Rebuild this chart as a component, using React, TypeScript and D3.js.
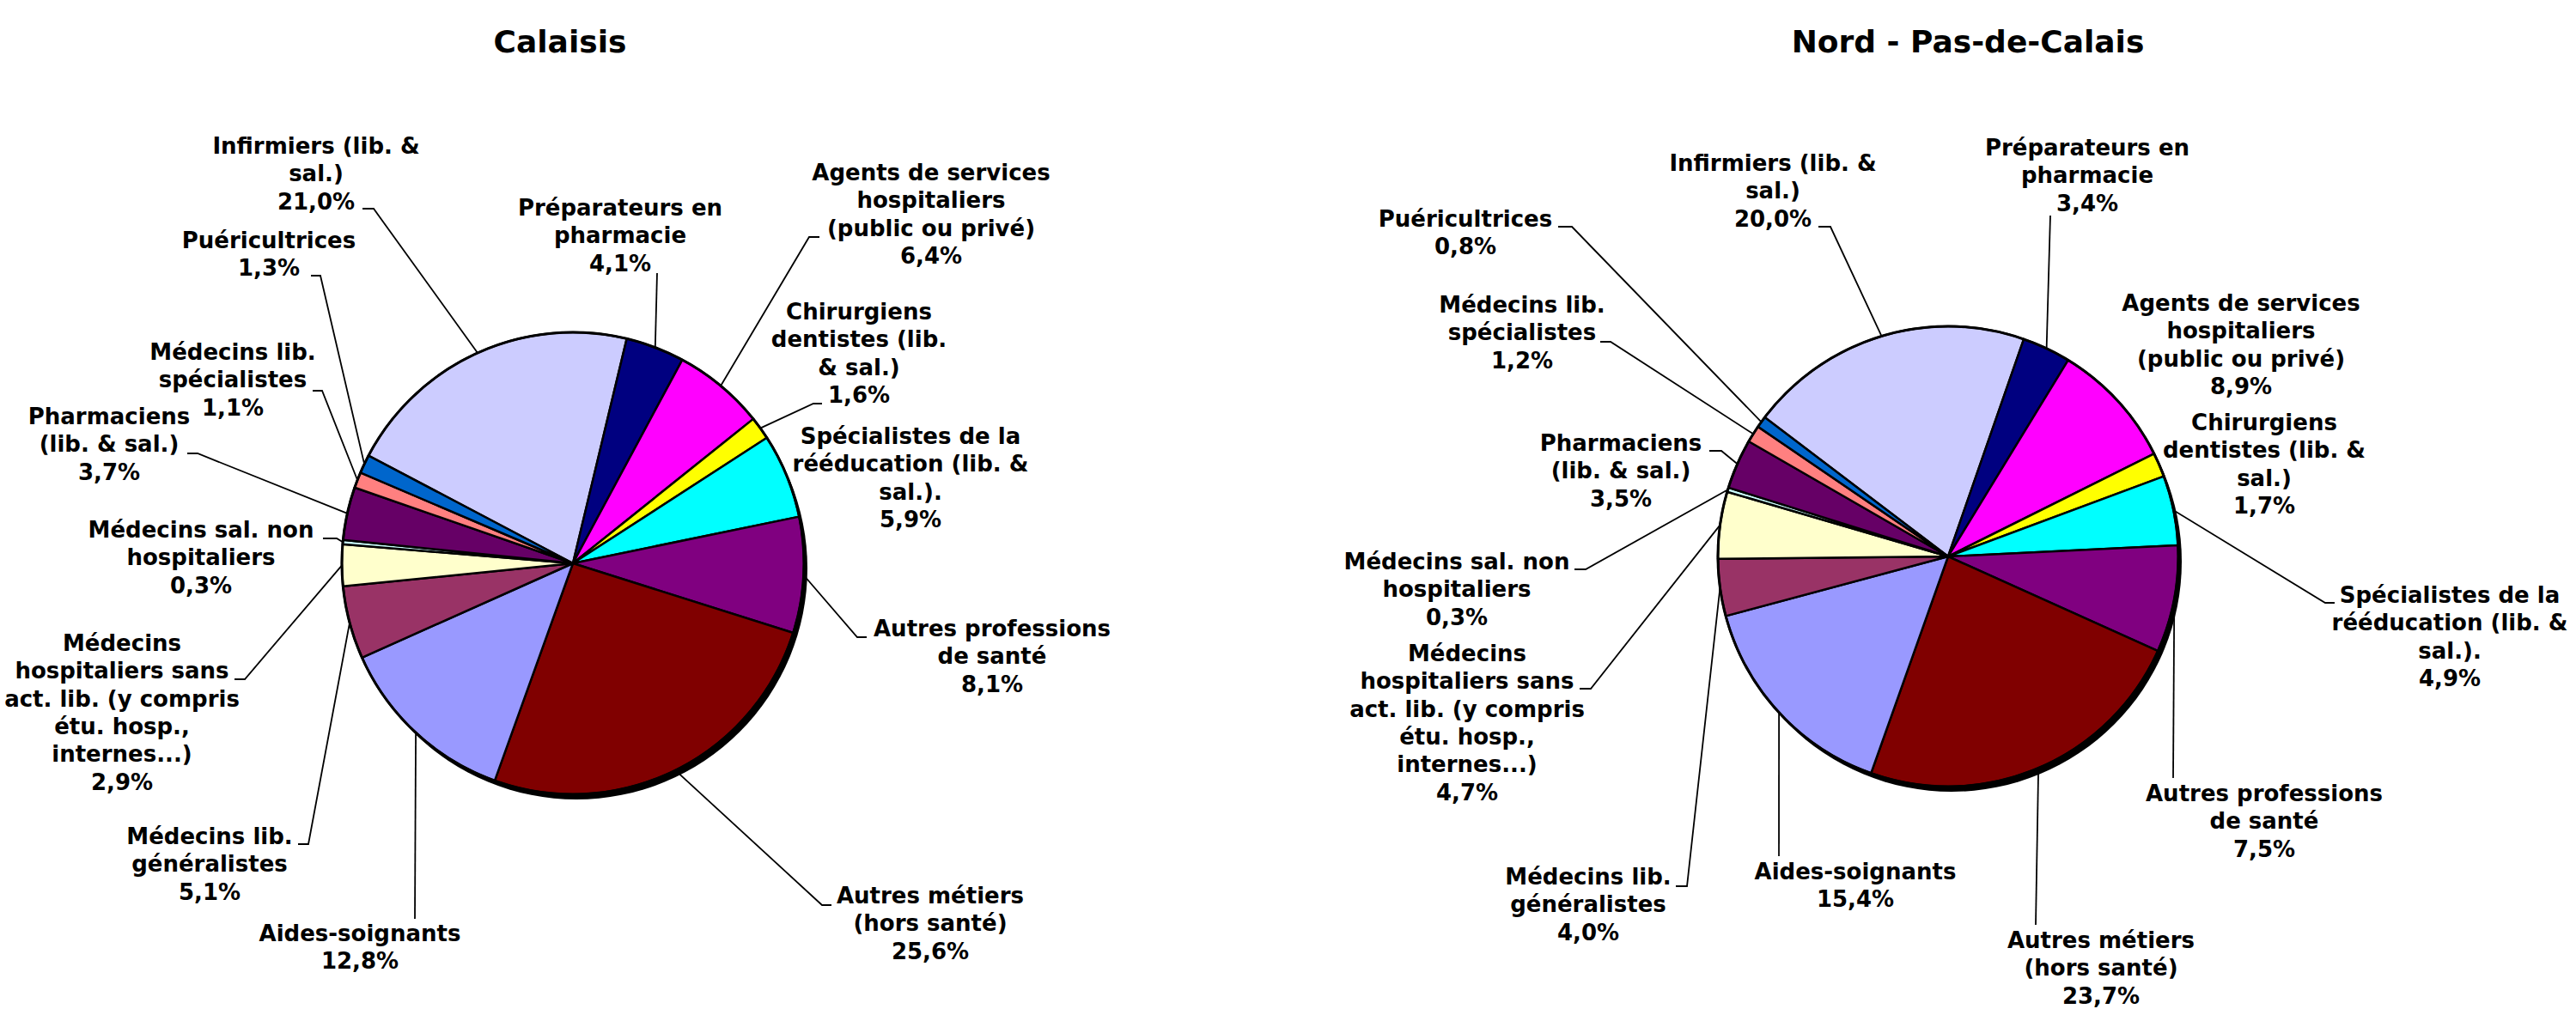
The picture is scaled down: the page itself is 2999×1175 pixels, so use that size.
import { useEffect } from "react";
import * as d3 from "d3";

const W = 2999;
const H = 1175;

// categories in clockwise order, line breaks as in the source chart
const categories = [
  "Infirmiers (lib. &\nsal.)",
  "Préparateurs en\npharmacie",
  "Agents de services\nhospitaliers\n(public ou privé)",
  "Chirurgiens\ndentistes (lib.\n& sal.)",
  "Spécialistes de la\nrééducation (lib. &\nsal.).",
  "Autres professions\nde santé",
  "Autres métiers\n(hors santé)",
  "Aides-soignants",
  "Médecins lib.\ngénéralistes",
  "Médecins\nhospitaliers sans\nact. lib. (y compris\nétu. hosp.,\ninternes...)",
  "Médecins sal. non\nhospitaliers",
  "Pharmaciens\n(lib. & sal.)",
  "Médecins lib.\nspécialistes",
  "Puéricultrices",
];

const colors = [
  "#CCCCFF", "#000080", "#FF00FF", "#FFFF00", "#00FFFF", "#800080", "#800000",
  "#9999FF", "#993366", "#FFFFCC", "#CCFFFF", "#660066", "#FF8080", "#0066CC",
];

const calaisisValues = [21.0, 4.1, 6.4, 1.6, 5.9, 8.1, 25.6, 12.8, 5.1, 2.9, 0.3, 3.7, 1.1, 1.3];
const nordValues = [20.0, 3.4, 8.9, 1.7, 4.9, 7.5, 23.7, 15.4, 4.0, 4.7, 0.3, 3.5, 1.2, 0.8];

const titles = ["Calaisis", "Nord - Pas-de-Calais"];

// label placement (x = centre, y = first baseline, lead = [x, y, tick length])
type Lbl = { x: number; y: number; lead?: [number, number, number]; lines?: string[] };

const calaisisLayout = {
  cx: 667, cy: 656, r: 269, start: -62.2, titleX: 652,
  labels: [
    { x: 368, y: 179, lead: [435, 243, -13] },
    { x: 722, y: 251, lead: [765, 318, 0] },
    { x: 1084, y: 210, lead: [942, 276, 12] },
    { x: 1000, y: 372, lead: [947, 470, 10] },
    { x: 1060, y: 517 },
    { x: 1155, y: 741, lead: [998, 742, 11] },
    { x: 1083, y: 1052, lead: [957, 1054, 11] },
    { x: 419, y: 1096, lead: [483, 1070, 0] },
    { x: 244, y: 983, lead: [359, 983, -12] },
    { x: 142, y: 758, lead: [285, 791, -12] },
    { x: 234, y: 626, lead: [392, 627, -16] },
    { x: 127, y: 494, lead: [230, 528, -12] },
    { x: 271, y: 419, lead: [375, 455, -11] },
    { x: 313, y: 289, lead: [373, 321, -11] },
  ] as Lbl[],
};

const nordLayout = {
  cx: 2268, cy: 648, r: 268, start: -52.8, titleX: 2291,
  labels: [
    { x: 2064, y: 199, lead: [2131, 264, -14] },
    { x: 2430, y: 181, lead: [2387, 251, 0] },
    { x: 2609, y: 362 },
    { x: 2636, y: 501, lines: ["Chirurgiens", "dentistes (lib. &", "sal.)"] },
    { x: 2852, y: 702, lead: [2707, 702, 11] },
    { x: 2636, y: 933, lead: [2530, 906, 0] },
    { x: 2446, y: 1104, lead: [2370, 1077, 0] },
    { x: 2160, y: 1024, lead: [2071, 997, 0] },
    { x: 1849, y: 1030, lead: [1964, 1032, -13] },
    { x: 1708, y: 770, lead: [1852, 802, -13] },
    { x: 1696, y: 663, lead: [1846, 663, -13] },
    { x: 1887, y: 525, lead: [2004, 525, -14] },
    { x: 1772, y: 364, lead: [1875, 398, -12] },
    { x: 1706, y: 264, lead: [1830, 264, -16] },
  ] as Lbl[],
};

const FONT = "'DejaVu Sans', Verdana, sans-serif";
const LINE_H = 32.3;
const fmt = (v: number) => v.toFixed(1).replace(".", ",") + "%";

function Pie({ values, layout, title }: { values: number[]; layout: typeof calaisisLayout; title: string }) {
  const { cx, cy, r, start } = layout;
  const a0 = (start * Math.PI) / 180;
  const arcs = d3
    .pie<number>()
    .sort(null)
    .value((d) => d)
    .startAngle(a0)
    .endAngle(a0 + 2 * Math.PI)(values);
  const arc = d3.arc<d3.PieArcDatum<number>>().innerRadius(0).outerRadius(r);

  return (
    <g>
      <text x={layout.titleX} y={61} textAnchor="middle" fontFamily={FONT} fontWeight="bold" fontSize={36}>
        {title}
      </text>

      {/* leader lines, drawn under the pie */}
      {arcs.map((a, i) => {
        const lbl = layout.labels[i];
        if (!lbl.lead) return null;
        const mid = (a.startAngle + a.endAngle) / 2;
        const ex = cx + r * Math.sin(mid);
        const ey = cy - r * Math.cos(mid);
        const [lx, ly, tick] = lbl.lead;
        const pts = tick ? `${ex},${ey} ${lx},${ly} ${lx + tick},${ly}` : `${ex},${ey} ${lx},${ly}`;
        return <polyline key={"l" + i} points={pts} fill="none" stroke="#000" strokeWidth={1.8} />;
      })}

      {/* shadow */}
      <circle cx={cx + 4} cy={cy + 6} r={r} fill="#000" />

      {arcs.map((a, i) => (
        <path
          key={"s" + i}
          d={arc(a) || ""}
          transform={`translate(${cx},${cy})`}
          fill={colors[i]}
          stroke="#000"
          strokeWidth={2.5}
          strokeLinejoin="round"
        />
      ))}
      <circle cx={cx} cy={cy} r={r} fill="none" stroke="#000" strokeWidth={3} />

      {arcs.map((a, i) => {
        const lbl = layout.labels[i];
        const lines = [...(lbl.lines || categories[i].split("\n")), fmt(values[i])];
        return (
          <text key={"t" + i} textAnchor="middle" fontFamily={FONT} fontWeight="bold" fontSize={26} fill="#000">
            {lines.map((t, j) => (
              <tspan key={j} x={lbl.x} y={lbl.y + j * LINE_H}>
                {t}
              </tspan>
            ))}
          </text>
        );
      })}
    </g>
  );
}

export default function App() {
  useEffect(() => {
    document.body.style.margin = "0";
  }, []);

  return (
    <svg width={W} height={H} style={{ display: "block", background: "#fff" }}>
      <rect width={W} height={H} fill="#fff" />
      <Pie values={calaisisValues} layout={calaisisLayout} title={titles[0]} />
      <Pie values={nordValues} layout={nordLayout} title={titles[1]} />
    </svg>
  );
}
